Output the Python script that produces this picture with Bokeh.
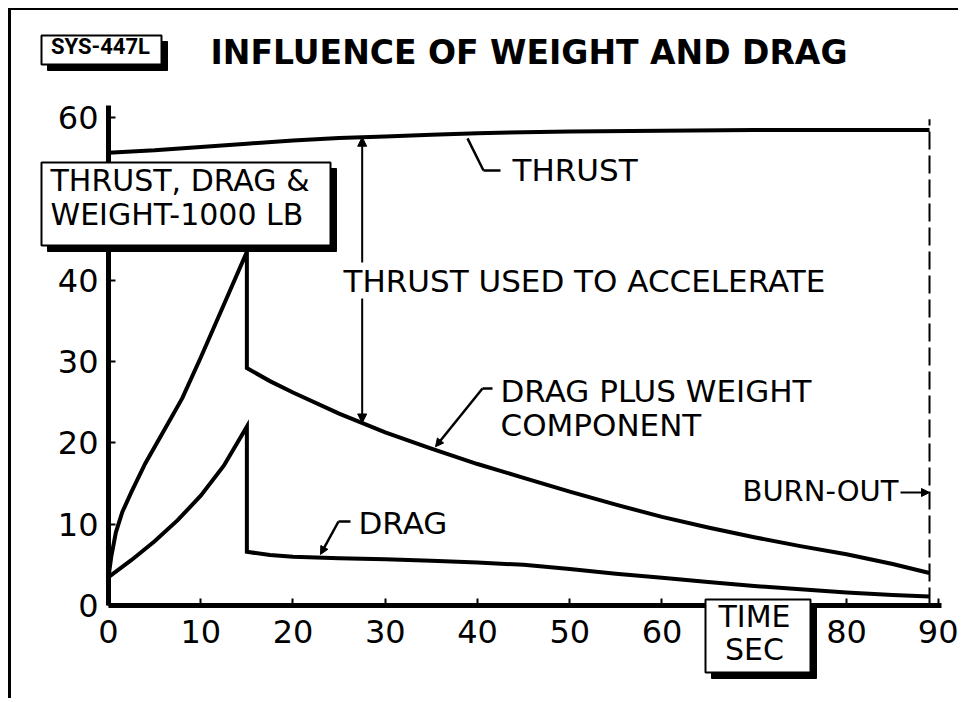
import numpy as np
from bokeh.plotting import figure
from bokeh.models import Range1d, FixedTicker, Label, Arrow, NormalHead, BoxAnnotation
from bokeh.embed import file_html
from bokeh.resources import INLINE

# ---------------- data ----------------
time_thrust = [0, 5, 10, 15, 20, 25, 30, 35, 40, 50, 60, 70, 80, 89]
thrust = [55.7, 56.0, 56.4, 56.8, 57.2, 57.5, 57.7, 57.9, 58.1, 58.3, 58.4, 58.5, 58.5, 58.5]

time_dpw = [0, 0.3, 0.8, 1.5, 2.5, 4, 6, 8, 10, 12.5, 15, 15, 17.5, 20, 25, 30, 35,
            40, 45, 50, 55, 60, 65, 70, 75, 80, 85, 89]
drag_plus_weight = [3.5, 6, 9, 11.5, 14, 17.5, 21.5, 25.5, 30.5, 37, 43.5, 29.2, 27.6,
                    26.2, 23.6, 21.3, 19.3, 17.4, 15.7, 14.0, 12.4, 10.9, 9.6, 8.4,
                    7.3, 6.3, 5.1, 4.0]

time_drag = [0, 2.5, 5, 7.5, 10, 12.5, 15, 15, 17.5, 20, 25, 30, 35, 40, 45, 50, 55,
             60, 65, 70, 75, 80, 85, 89]
drag = [3.5, 5.6, 7.9, 10.5, 13.5, 17.2, 22, 6.6, 6.2, 6.0, 5.8, 5.7, 5.5, 5.3, 5.0,
        4.5, 3.9, 3.4, 2.9, 2.4, 2.0, 1.6, 1.3, 1.1]

x_ticks = [0, 10, 20, 30, 40, 50, 60, 80, 90]
y_ticks = [0, 10, 20, 30, 40, 60]
x_axis_end = 90.3
y_axis_end = 61.5
burnout_time = 89
accel_time = 27.5

# ---------------- layout ----------------
W, H = 950, 690
CX0, CY0 = 11, 10          # page position of the canvas origin
AX_L, AX_T, AX_R, AX_B = 108, 105, 941, 605   # page px of the axes box
SX = (AX_R - AX_L) / x_axis_end
SY = (AX_B - AX_T) / y_axis_end
LBL_DX, LBL_DY = -3, -15    # label placement correction

def cx(px):
    return px - CX0

def cy(py):
    return py - CY0

def dx(px):
    return (px - AX_L) / SX

def dy(py):
    return (AX_B - py) / SY

FONT = "DejaVu Sans"

p = figure(width=W, height=H,
           x_range=Range1d(dx(CX0), dx(CX0 + W)), y_range=Range1d(dy(CY0 + H), dy(CY0)),
           output_backend="svg", toolbar_location=None, min_border=0)
p.styles = {"margin-left": "8px", "margin-top": "8px",
            "border-left": "3px solid black", "border-top": "2px solid black"}
p.grid.visible = False
p.outline_line_color = None
p.background_fill_color = "white"
p.border_fill_color = "white"

p.xaxis[0].fixed_location = 0
p.xaxis[0].bounds = (0, x_axis_end)
p.yaxis[0].fixed_location = 0
p.yaxis[0].bounds = (0, y_axis_end)
for ax in (p.xaxis[0], p.yaxis[0]):
    ax.axis_line_width = 5
    ax.axis_line_color = "black"
    ax.major_tick_in = 7
    ax.major_tick_out = 0
    ax.major_tick_line_width = 2
    ax.minor_tick_line_color = None
    ax.major_label_text_font = FONT
    ax.major_label_text_font_size = "32px"
    ax.major_label_text_color = "black"
p.xaxis[0].ticker = FixedTicker(ticks=x_ticks)
p.yaxis[0].ticker = FixedTicker(ticks=y_ticks)
p.xaxis[0].major_label_standoff = 14
p.yaxis[0].major_label_standoff = 10

# ---------------- curves ----------------
p.line(time_thrust, thrust, line_width=4, color="black")
p.line(time_dpw, drag_plus_weight, line_width=4, color="black", line_join="miter")
p.line(time_drag, drag, line_width=4, color="black", line_join="miter")

# burn-out dashed line
thrust_end = float(np.interp(burnout_time, time_thrust, thrust))
p.line([burnout_time, burnout_time], [0, thrust_end + 1.3], line_width=2,
       color="black", line_dash="18 6")

# thrust used to accelerate (double arrow)
t_top = float(np.interp(accel_time, time_thrust, thrust))
t_bot = float(np.interp(accel_time, time_dpw[11:], drag_plus_weight[11:]))
p.add_layout(Arrow(x_start=accel_time, y_start=t_bot, x_end=accel_time, y_end=t_top,
                   line_width=2,
                   start=NormalHead(size=9, fill_color="black", line_color="black"),
                   end=NormalHead(size=9, fill_color="black", line_color="black")))

# leaders
def leader(tip_x, tip_y, elbow_px, end_px, y_px, head=True):
    ex, ey = dx(elbow_px), dy(y_px)
    p.line([ex, dx(end_px)], [ey, ey], line_width=2.5, color="black")
    p.add_layout(Arrow(x_start=ex, y_start=ey, x_end=tip_x, y_end=tip_y, line_width=2.5,
                       end=NormalHead(size=8, fill_color="black", line_color="black") if head else None))

tx = dx(467)
leader(tx, float(np.interp(tx, time_thrust, thrust)) - 0.6, 483, 500, 170, head=False)
wx = dx(435)
leader(wx, float(np.interp(wx, time_dpw[11:], drag_plus_weight[11:])) + 0.4, 482, 492, 388)
gx = dx(320)
leader(gx, float(np.interp(gx, time_drag[7:], drag[7:])) + 0.4, 338, 350, 521)

# burn-out arrow
p.add_layout(Arrow(x_start=dx(900), y_start=dy(492), x_end=burnout_time, y_end=dy(492),
                   line_width=2, end=NormalHead(size=8, fill_color="black", line_color="black")))

# ---------------- boxes & texts ----------------
def box(l, t, r, b, shadow=6):
    kw = dict(left_units="canvas", right_units="canvas", top_units="canvas",
              bottom_units="canvas", fill_alpha=1, line_color="black", line_alpha=1)
    p.add_layout(BoxAnnotation(left=cx(l + shadow), right=cx(r + shadow), top=cy(t + shadow),
                               bottom=cy(b + shadow), fill_color="black", **kw))
    p.add_layout(BoxAnnotation(left=cx(l), right=cx(r), top=cy(t), bottom=cy(b),
                               fill_color="white", line_width=2, **kw))

def text(s, px, py, size="31px", align="left", font=FONT, style="normal", bg=None):
    lab = Label(x=cx(px) + LBL_DX, y=cy(py) + LBL_DY, x_units="canvas", y_units="canvas",
                text=s, text_font=font, text_font_size=size, text_font_style=style,
                text_align=align, text_baseline="alphabetic", text_color="black")
    if bg:
        lab.background_fill_color = bg
    p.add_layout(lab)

box(38, 33, 158, 62)
text("SYS-447L", 100, 59, size="22px", align="center", font="Roboto", style="bold")

text("INFLUENCE OF WEIGHT AND DRAG", 210, 65, size="33px", style="bold")

box(38, 160, 327, 243)
text("THRUST, DRAG &", 50, 193, size="30px")
text("WEIGHT-1000 LB", 50, 227, size="30px")

box(702, 597, 807, 670)
text("TIME", 754, 629, size="30px", align="center")
text("SEC", 754, 662, size="30px", align="center")

text("THRUST", 512, 182)
text("THRUST USED TO ACCELERATE", 343, 293, bg="white")
text("DRAG PLUS WEIGHT", 500, 403)
text("COMPONENT", 500, 437)
text("DRAG", 358, 535)
text("BURN-OUT", 742, 503, size="29px")

open("out.html", "w").write(file_html(p, INLINE))
